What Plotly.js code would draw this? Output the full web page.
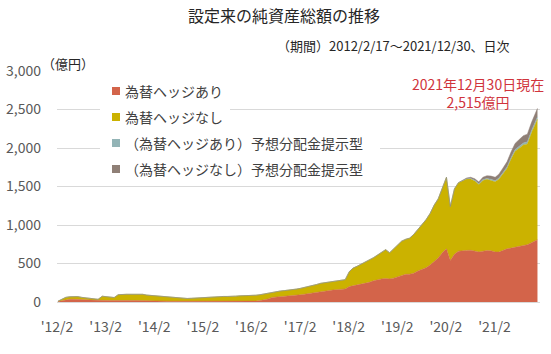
<!DOCTYPE html>
<html>
<head>
<meta charset="utf-8">
<script src="https://cdn.plot.ly/plotly-3.0.1.min.js"></script>
<style>html,body{margin:0;padding:0;background:#fff;}#chart{width:551px;height:354px;}</style>
</head>
<body>
<div id="chart"></div>
<script>
// ---- data (億円), monthly readings from the reference ----
const dates = [
 '2012-02-17','2012-03-15','2012-04-15','2012-05-15','2012-06-15','2012-07-15','2012-08-15','2012-09-15','2012-10-15','2012-11-15','2012-12-15',
 '2013-01-15','2013-02-15','2013-03-15','2013-04-15','2013-05-15','2013-06-15','2013-07-15','2013-08-15','2013-09-15','2013-10-15','2013-11-15','2013-12-15',
 '2014-01-15','2014-02-15','2014-03-15','2014-04-15','2014-05-15','2014-06-15','2014-07-15','2014-08-15','2014-09-15','2014-10-15','2014-11-15','2014-12-15',
 '2015-01-15','2015-02-15','2015-03-15','2015-04-15','2015-05-15','2015-06-15','2015-07-15','2015-08-15','2015-09-15','2015-10-15','2015-11-15','2015-12-15',
 '2016-01-15','2016-02-15','2016-03-15','2016-04-15','2016-05-15','2016-06-15','2016-07-15','2016-08-15','2016-09-15','2016-10-15','2016-11-15','2016-12-15',
 '2017-01-15','2017-02-15','2017-03-15','2017-04-15','2017-05-15','2017-06-15','2017-07-15','2017-08-15','2017-09-15','2017-10-15','2017-11-15','2017-12-15',
 '2018-01-15','2018-02-15','2018-03-15','2018-04-15','2018-05-15','2018-06-15','2018-07-15','2018-08-15','2018-09-15','2018-10-15','2018-11-15','2018-12-15',
 '2019-01-15','2019-02-15','2019-03-15','2019-04-15','2019-05-15','2019-06-15','2019-07-15','2019-08-15','2019-09-15','2019-10-15','2019-11-15','2019-12-15',
 '2020-01-15','2020-02-15','2020-03-15','2020-04-15','2020-05-15','2020-06-15','2020-07-15','2020-08-15','2020-09-15','2020-10-15','2020-11-15','2020-12-15',
 '2021-01-15','2021-02-15','2021-03-15','2021-04-15','2021-05-15','2021-06-15','2021-07-15','2021-08-15','2021-09-15','2021-10-15','2021-11-15','2021-12-30'
];
const hedged = [
 5,15,30,35,36,36,32,28,25,22,20,
 24,22,20,20,22,22,22,20,20,20,18,16,
 15,14,13,12,11,10,10,9,8,8,8,8,
 8,8,8,8,8,8,8,8,8,8,9,9,
 9,10,12,18,28,40,60,64,68,72,78,82,
 88,95,102,110,118,128,140,148,152,156,160,165,
 170,200,210,220,235,250,255,275,290,300,305,300,
 310,325,340,360,362,375,403,420,445,480,520,570,
 640,690,540,620,660,670,670,672,665,650,660,668,
 665,650,648,672,690,700,710,725,735,745,770,810
];
const unhedged = [
 5,15,30,33,34,34,28,27,20,16,15,
 51,48,40,38,73,78,78,80,80,82,82,74,
 70,66,65,60,59,52,45,41,40,38,40,44,
 47,50,54,56,58,60,64,64,62,68,71,73,
 69,70,76,77,77,78,65,71,75,76,74,78,
 80,83,86,88,94,100,103,104,110,116,118,118,
 120,195,230,245,255,265,285,300,320,345,375,340,
 380,410,450,455,468,505,537,580,625,670,740,770,
 840,930,700,850,890,904,926,927,907,875,919,925,
 917,911,947,993,1045,1158,1248,1273,1305,1308,1427,1565
];
const distDates = [
 '2020-06-15','2020-07-15','2020-08-15','2020-09-15','2020-10-15','2020-11-15','2020-12-15',
 '2021-01-15','2021-02-15','2021-03-15','2021-04-15','2021-05-15','2021-06-15','2021-07-15','2021-08-15','2021-09-15','2021-10-15','2021-11-15','2021-12-30'
];
const hedgedDist   = [2,4,6,8,10,11,12,13,14,15,17,19,20,22,24,25,27,28,30];
const unhedgedDist = [4,10,15,20,25,30,35,40,45,50,58,66,72,80,88,95,100,105,110];

const seriesNames = ['為替ヘッジあり','為替ヘッジなし','（為替ヘッジあり）予想分配金提示型','（為替ヘッジなし）予想分配金提示型'];
const seriesColors = ['#d3644a','#cbb200','#93b4b6','#8f7f76'];

const tickVals = ['2012-02-10','2013-02-10','2014-02-10','2015-02-10','2016-02-10','2017-02-10','2018-02-10','2019-02-10','2020-02-10','2021-02-10'];
const tickText = ["'12/2","'13/2","'14/2","'15/2","'16/2","'17/2","'18/2","'19/2","'20/2","'21/2"];
const yTicks = [0,500,1000,1500,2000,2500,3000];

// ---- layout geometry ----
const W = 551, H = 354;
const M = {l:57, r:11, t:71, b:52};
const PW = W - M.l - M.r, PH = H - M.t - M.b;
const px = x => (x - M.l) / PW;
const py = y => (M.t + PH - y) / PH;

const FONT = '"Noto Sans CJK JP", "Noto Sans", sans-serif';

const xs = [dates, dates, distDates, distDates];
const ys = [hedged, unhedged, hedgedDist, unhedgedDist];
const traces = ys.map((y, i) => ({
  type: 'scatter', mode: 'lines', x: xs[i], y: y,
  stackgroup: 'nav', name: seriesNames[i],
  line: {width: 0.5, color: seriesColors[i]},
  fillcolor: seriesColors[i], showlegend: false, hoverinfo: 'skip'
}));

// custom legend (white boxes behind each row, colored squares, text)
const rowY = [91, 117, 143, 169];
const rowEnd = [230, 230, 380, 380];
const shapes = [], annotations = [];
rowY.forEach((y, i) => {
  shapes.push({type:'rect', xref:'paper', yref:'paper', layer:'above',
    x0: px(100), x1: px(rowEnd[i]), y0: py(y + 12), y1: py(y - 12),
    line:{width:0}, fillcolor:'#ffffff'});
  shapes.push({type:'rect', xref:'paper', yref:'paper', layer:'above',
    x0: px(112), x1: px(120), y0: py(y + 4), y1: py(y - 4),
    line:{width:0}, fillcolor: seriesColors[i]});
  annotations.push({xref:'paper', yref:'paper', x: px(123), y: py(y), xanchor:'left', yanchor:'middle',
    text: seriesNames[i], showarrow:false, font:{family:FONT, size:14, color:'#404040'}});
});

annotations.push({xref:'paper', yref:'paper', x: px(512), y: py(45), xanchor:'right', yanchor:'middle',
  text:'（期間）2012/2/17～2021/12/30、日次', showarrow:false, font:{family:FONT, size:13, color:'#262626'}});
annotations.push({xref:'paper', yref:'paper', x: px(40), y: py(63), xanchor:'left', yanchor:'middle',
  text:'（億円）', showarrow:false, font:{family:FONT, size:13, color:'#262626'}});
annotations.push({xref:'paper', yref:'paper', x: px(478), y: py(93), xanchor:'center', yanchor:'middle',
  text:'2021年12月30日現在<br>2,515億円', align:'center', showarrow:false,
  font:{family:FONT, size:14, color:'#d0343c'}});

const layout = {
  width: W, height: H, margin: M,
  paper_bgcolor:'#ffffff', plot_bgcolor:'#ffffff',
  font: {family: FONT, color:'#595959'},
  title: {text:'設定来の純資産総額の推移', x: 284/W, xanchor:'center', y: 1 - 16/H, yanchor:'middle',
          font:{family:FONT, size:16, color:'#262626'}},
  showlegend: false,
  xaxis: {type:'date', range:['2012-02-10','2022-01-18'], tickvals: tickVals, ticktext: tickText,
          showgrid:false, zeroline:false, showline:true, linecolor:'#d9d9d9', linewidth:1,
          ticks:'', ticklabelstandoff: 12, tickfont:{family:FONT, size:14, color:'#595959'}, fixedrange:true},
  yaxis: {range:[0,3000], tickvals: yTicks, tickformat:',d', showgrid:true, gridcolor:'#d9d9d9', gridwidth:1,
          zeroline:false, showline:false, ticks:'', ticklabelstandoff: 15,
          tickfont:{family:FONT, size:14, color:'#595959'}, fixedrange:true},
  shapes: shapes, annotations: annotations
};

Plotly.newPlot('chart', traces, layout, {staticPlot:true, displayModeBar:false});
</script>
</body>
</html>
